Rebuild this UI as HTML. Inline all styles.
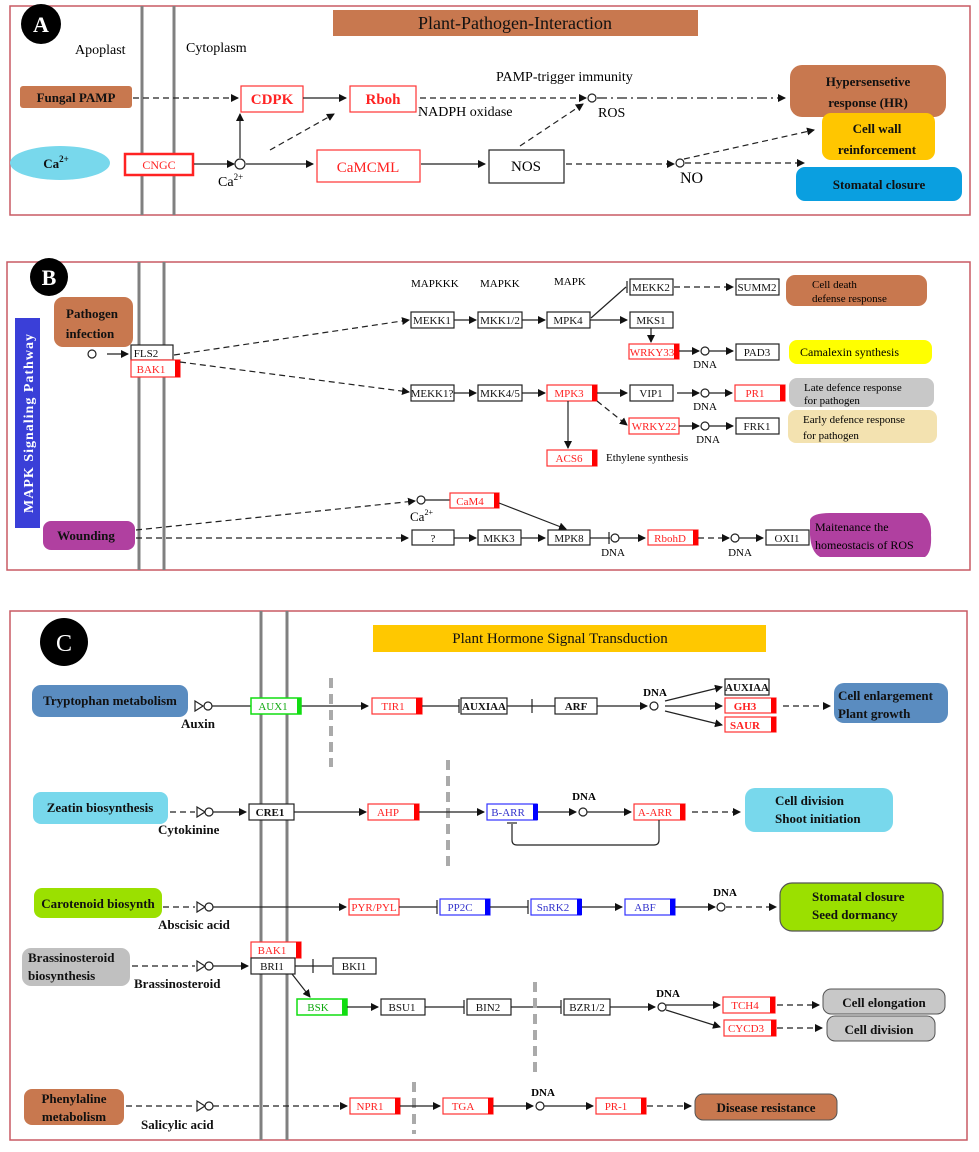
<!DOCTYPE html>
<html><head><meta charset="utf-8"><style>
html,body{margin:0;padding:0;background:#fff;}
svg{display:block;font-family:"Liberation Serif",serif;}
.n{fill:#fff;stroke:#222;stroke-width:1.2}
.r{fill:#fff;stroke:#f33;stroke-width:1.2}
.g{fill:#fff;stroke:#1d1;stroke-width:1.5}
.b{fill:#fff;stroke:#33f;stroke-width:1.2}
.t{font-size:11px;fill:#111;text-anchor:middle}
.tr{font-size:11px;fill:#f22;text-anchor:middle}
.tg{font-size:11px;fill:#1a1;text-anchor:middle}
.tb{font-size:11px;fill:#33c;text-anchor:middle}
.l{stroke:#222;stroke-width:1.2;fill:none}
.d{stroke:#222;stroke-width:1.2;fill:none;stroke-dasharray:6,4}
.bold{font-weight:bold;font-size:13px;fill:#111}
.vg{stroke:#808080;stroke-width:3}
.gd{stroke:#aaa;stroke-width:4;stroke-dasharray:10,6}
.c{fill:#fff;stroke:#222;stroke-width:1.2}
</style></head><body>
<svg width="979" height="1152" viewBox="0 0 979 1152" xmlns="http://www.w3.org/2000/svg">
<defs>
<marker id="a" markerWidth="8" markerHeight="8" refX="7" refY="4" orient="auto" markerUnits="userSpaceOnUse"><path d="M0,0 L8,4 L0,8 z" fill="#111"/></marker>
</defs>
<!-- PANEL A -->
<rect x="10" y="6" width="960" height="209" fill="none" stroke="#c85a64" stroke-width="1.5"/>
<line class="vg" x1="142" y1="6" x2="142" y2="215"/><line class="vg" x1="174" y1="6" x2="174" y2="215"/>
<circle cx="41" cy="24" r="20" fill="#000"/><text x="41" y="32" font-size="22" font-weight="bold" fill="#fff" text-anchor="middle">A</text>
<rect x="333" y="10" width="365" height="26" fill="#c8784f"/><text x="515" y="29" font-size="18" text-anchor="middle" fill="#111">Plant-Pathogen-Interaction</text>
<text x="75" y="54" font-size="14">Apoplast</text><text x="186" y="52" font-size="14">Cytoplasm</text>
<rect x="20" y="86" width="112" height="22" rx="3" fill="#c8784f"/><text x="76" y="102" class="bold" text-anchor="middle" font-size="14">Fungal PAMP</text>
<line class="d" x1="133" y1="98" x2="238" y2="98" marker-end="url(#a)"/>
<rect class="r" x="241" y="86" width="62" height="26"/><text x="272" y="104" font-size="15" font-weight="bold" fill="#f22" text-anchor="middle">CDPK</text>
<line class="l" x1="303" y1="98" x2="346" y2="98" marker-end="url(#a)"/>
<rect class="r" x="350" y="86" width="66" height="26"/><text x="383" y="104" font-size="15" font-weight="bold" fill="#f22" text-anchor="middle">Rboh</text>
<line class="d" x1="420" y1="98" x2="586" y2="98" marker-end="url(#a)"/>
<circle class="c" cx="592" cy="98" r="4"/>
<text x="418" y="116" font-size="14">NADPH oxidase</text><text x="496" y="81" font-size="14">PAMP-trigger immunity</text><text x="598" y="117" font-size="14">ROS</text>
<path class="l" d="M597,98 L785,98" stroke-dasharray="10,4,2,4" marker-end="url(#a)"/>
<rect x="790" y="65" width="156" height="52" rx="12" fill="#c8784f"/><text x="868" y="86" class="bold" font-size="15" text-anchor="middle">Hypersensetive</text><text x="868" y="107" class="bold" font-size="15" text-anchor="middle">response (HR)</text>
<ellipse cx="60" cy="163" rx="50" ry="17" fill="#78d8ec"/><text x="56" y="168" class="bold" font-size="14" text-anchor="middle">Ca<tspan font-size="9" dy="-6">2+</tspan></text>
<rect x="125" y="154" width="68" height="21" fill="#fff" stroke="#f22" stroke-width="2.5"/><text x="159" y="169" font-size="12" fill="#f22" text-anchor="middle">CNGC</text>
<line class="l" x1="194" y1="164" x2="234" y2="164" marker-end="url(#a)"/>
<circle class="c" cx="240" cy="164" r="5"/><text x="218" y="186" font-size="14">Ca<tspan font-size="9" dy="-6">2+</tspan></text>
<line class="l" x1="240" y1="158" x2="240" y2="114" marker-end="url(#a)"/>
<line class="d" x1="270" y1="150" x2="334" y2="114" marker-end="url(#a)"/>
<line class="l" x1="246" y1="164" x2="313" y2="164" marker-end="url(#a)"/>
<rect class="r" x="317" y="150" width="103" height="32"/><text x="368" y="172" font-size="15" fill="#f22" text-anchor="middle">CaMCML</text>
<line class="l" x1="421" y1="164" x2="485" y2="164" marker-end="url(#a)"/>
<rect class="n" x="489" y="150" width="75" height="33"/><text x="526" y="171" font-size="15" text-anchor="middle">NOS</text>
<line class="d" x1="520" y1="146" x2="583" y2="104" marker-end="url(#a)"/>
<line class="d" x1="566" y1="164" x2="674" y2="164" marker-end="url(#a)"/>
<circle class="c" cx="680" cy="163" r="4"/><text x="680" y="183" font-size="16">NO</text>
<line class="d" x1="684" y1="159" x2="814" y2="130" marker-end="url(#a)"/>
<line class="d" x1="685" y1="163" x2="804" y2="163" marker-end="url(#a)"/>
<rect x="822" y="113" width="113" height="47" rx="9" fill="#ffc600"/><text x="877" y="133" class="bold" font-size="15" text-anchor="middle">Cell wall</text><text x="877" y="154" class="bold" font-size="15" text-anchor="middle">reinforcement</text>
<rect x="796" y="167" width="166" height="34" rx="9" fill="#0a9fe0"/><text x="879" y="189" class="bold" font-size="15" text-anchor="middle">Stomatal closure</text>

<!-- PANEL B -->
<rect x="7" y="262" width="963" height="308" fill="none" stroke="#c85a64" stroke-width="1.5"/>
<line class="vg" x1="139" y1="262" x2="139" y2="570"/><line class="vg" x1="164" y1="262" x2="164" y2="570"/>
<circle cx="49" cy="277" r="19" fill="#000"/><text x="49" y="285" font-size="22" font-weight="bold" fill="#fff" text-anchor="middle">B</text>
<rect x="15" y="318" width="25" height="210" fill="#3a3fd8"/><text transform="translate(33,423) rotate(-90)" font-size="14" font-weight="bold" fill="#fff" text-anchor="middle" letter-spacing="1">MAPK Signaling Pathway</text>
<rect x="54" y="297" width="79" height="50" rx="9" fill="#c8784f"/><text x="92" y="318" class="bold" text-anchor="middle">Pathogen</text><text x="90" y="338" class="bold" text-anchor="middle">infection</text>
<circle class="c" cx="92" cy="354" r="4"/><line class="l" x1="107" y1="354" x2="128" y2="354" marker-end="url(#a)"/>
<rect class="n" x="131" y="345" width="42" height="15"/><text x="146" y="357" class="t">FLS2</text>
<rect class="r" x="131" y="360" width="49" height="17"/><rect x="175" y="360" width="5" height="17" fill="#f00"/><text x="151" y="373" class="tr">BAK1</text>
<line class="d" x1="174" y1="355" x2="409" y2="320" marker-end="url(#a)"/>
<line class="d" x1="180" y1="362" x2="409" y2="392" marker-end="url(#a)"/>
<text x="411" y="287" font-size="11">MAPKKK</text><text x="480" y="287" font-size="11">MAPKK</text><text x="554" y="285" font-size="11">MAPK</text>
<rect class="n" x="411" y="312" width="43" height="16"/><text x="432" y="324" class="t">MEKK1</text>
<line class="l" x1="454" y1="320" x2="476" y2="320" marker-end="url(#a)"/>
<rect class="n" x="478" y="312" width="44" height="16"/><text x="500" y="324" class="t">MKK1/2</text>
<line class="l" x1="522" y1="320" x2="545" y2="320" marker-end="url(#a)"/>
<rect class="n" x="547" y="312" width="43" height="16"/><text x="568" y="324" class="t">MPK4</text>
<line class="l" x1="590" y1="320" x2="627" y2="320" marker-end="url(#a)"/>
<polyline class="l" points="591,318 626,287" stroke-width="0.8"/><line class="l" x1="627" y1="281" x2="627" y2="293"/>
<rect class="n" x="630" y="279" width="43" height="16"/><text x="651" y="291" class="t">MEKK2</text>
<line class="d" x1="674" y1="287" x2="733" y2="287" marker-end="url(#a)"/>
<rect class="n" x="736" y="279" width="43" height="16"/><text x="757" y="291" class="t">SUMM2</text>
<rect x="786" y="275" width="141" height="31" rx="9" fill="#c8784f"/><text x="812" y="288" font-size="11">Cell death</text><text x="812" y="302" font-size="11">defense response</text>
<rect class="n" x="630" y="312" width="43" height="16"/><text x="651" y="324" class="t">MKS1</text>
<line class="l" x1="651" y1="328" x2="651" y2="342" marker-end="url(#a)"/>
<rect class="r" x="629" y="344" width="50" height="15"/><rect x="674" y="344" width="5" height="15" fill="#f00"/><text x="652" y="356" class="tr">WRKY33</text>
<line class="l" x1="679" y1="351" x2="699" y2="351" marker-end="url(#a)"/><circle class="c" cx="705" cy="351" r="4"/><line class="l" x1="709" y1="351" x2="733" y2="351" marker-end="url(#a)"/>
<text x="705" y="368" font-size="11" text-anchor="middle">DNA</text>
<rect class="n" x="736" y="344" width="43" height="16"/><text x="757" y="356" class="t">PAD3</text>
<rect x="789" y="340" width="143" height="24" rx="8" fill="#ffff00"/><text x="800" y="356" font-size="12">Camalexin synthesis</text>
<rect class="n" x="411" y="385" width="43" height="16"/><text x="432" y="397" class="t">MEKK1?</text>
<line class="l" x1="454" y1="393" x2="476" y2="393" marker-end="url(#a)"/>
<rect class="n" x="478" y="385" width="44" height="16"/><text x="500" y="397" class="t">MKK4/5</text>
<line class="l" x1="522" y1="393" x2="545" y2="393" marker-end="url(#a)"/>
<rect class="r" x="547" y="385" width="50" height="16"/><rect x="592" y="385" width="5" height="16" fill="#f00"/><text x="569" y="397" class="tr">MPK3</text>
<line class="l" x1="597" y1="393" x2="627" y2="393" marker-end="url(#a)"/>
<rect class="n" x="630" y="385" width="43" height="16"/><text x="651" y="397" class="t">VIP1</text>
<line class="l" x1="677" y1="393" x2="699" y2="393" marker-end="url(#a)"/><circle class="c" cx="705" cy="393" r="4"/><line class="l" x1="709" y1="393" x2="732" y2="393" marker-end="url(#a)"/>
<text x="705" y="410" font-size="11" text-anchor="middle">DNA</text>
<rect class="r" x="735" y="385" width="50" height="16"/><rect x="780" y="385" width="5" height="16" fill="#f00"/><text x="755" y="397" class="tr">PR1</text>
<rect x="789" y="378" width="145" height="29" rx="8" fill="#c8c8c8"/><text x="804" y="391" font-size="11">Late defence response</text><text x="804" y="404" font-size="11">for pathogen</text>
<line class="d" x1="597" y1="401" x2="627" y2="425" marker-end="url(#a)" stroke-dasharray="3,3"/>
<rect class="r" x="629" y="418" width="50" height="16"/><text x="654" y="430" class="tr">WRKY22</text>
<line class="l" x1="679" y1="426" x2="699" y2="426" marker-end="url(#a)"/><circle class="c" cx="705" cy="426" r="4"/><line class="l" x1="709" y1="426" x2="733" y2="426" marker-end="url(#a)"/>
<text x="708" y="443" font-size="11" text-anchor="middle">DNA</text>
<rect class="n" x="736" y="418" width="43" height="16"/><text x="757" y="430" class="t">FRK1</text>
<rect x="788" y="410" width="149" height="33" rx="8" fill="#f3e2b0"/><text x="803" y="423" font-size="11">Early defence response</text><text x="803" y="439" font-size="11">for pathogen</text>
<line class="l" x1="568" y1="401" x2="568" y2="448" marker-end="url(#a)"/>
<rect class="r" x="547" y="450" width="50" height="16"/><rect x="592" y="450" width="5" height="16" fill="#f00"/><text x="569" y="462" class="tr">ACS6</text>
<text x="606" y="461" font-size="11">Ethylene synthesis</text>
<rect x="43" y="521" width="92" height="29" rx="8" fill="#b040a0"/><text x="86" y="540" class="bold" text-anchor="middle">Wounding</text>
<line class="d" x1="136" y1="530" x2="415" y2="501" marker-end="url(#a)"/>
<circle class="c" cx="421" cy="500" r="4"/><line class="l" x1="425" y1="500" x2="450" y2="500"/>
<text x="410" y="521" font-size="13">Ca<tspan font-size="8" dy="-6">2+</tspan></text>
<rect class="r" x="450" y="493" width="49" height="15"/><rect x="494" y="493" width="5" height="15" fill="#f00"/><text x="470" y="505" class="tr">CaM4</text>
<line class="l" x1="499" y1="503" x2="566" y2="529" marker-end="url(#a)"/>
<line class="d" x1="136" y1="538" x2="408" y2="538" marker-end="url(#a)"/>
<rect class="n" x="412" y="530" width="42" height="15"/><text x="433" y="542" class="t">?</text>
<line class="l" x1="454" y1="538" x2="476" y2="538" marker-end="url(#a)"/>
<rect class="n" x="478" y="530" width="43" height="15"/><text x="499" y="542" class="t">MKK3</text>
<line class="l" x1="521" y1="538" x2="545" y2="538" marker-end="url(#a)"/>
<rect class="n" x="548" y="530" width="42" height="15"/><text x="569" y="542" class="t">MPK8</text>
<line class="l" x1="590" y1="538" x2="610" y2="538"/><line class="l" x1="609" y1="532" x2="609" y2="544"/><circle class="c" cx="615" cy="538" r="4"/>
<text x="613" y="556" font-size="11" text-anchor="middle">DNA</text>
<line class="l" x1="619" y1="538" x2="645" y2="538" marker-end="url(#a)"/>
<rect class="r" x="648" y="530" width="50" height="15"/><rect x="693" y="530" width="5" height="15" fill="#f00"/><text x="670" y="542" class="tr">RbohD</text>
<line class="d" x1="698" y1="538" x2="729" y2="538" marker-end="url(#a)" stroke-dasharray="4,3"/><circle class="c" cx="735" cy="538" r="4"/>
<line class="l" x1="739" y1="538" x2="763" y2="538" marker-end="url(#a)"/>
<text x="740" y="556" font-size="11" text-anchor="middle">DNA</text>
<rect class="n" x="766" y="530" width="43" height="15"/><text x="787" y="542" class="t">OXI1</text>
<path d="M810,520 Q812,513 830,513 L922,513 Q932,520 931,535 Q932,552 925,557 L820,557 Q811,552 810,535 z" fill="#b040a0"/>
<text x="815" y="531" font-size="12">Maitenance the</text><text x="815" y="549" font-size="12">homeostacis of ROS</text>

<!-- PANEL C -->
<rect x="10" y="611" width="957" height="529" fill="none" stroke="#c85a64" stroke-width="1.5"/>
<line class="vg" x1="261" y1="611" x2="261" y2="1140"/><line class="vg" x1="287" y1="611" x2="287" y2="1140"/>
<circle cx="64" cy="642" r="24" fill="#000"/><text x="64" y="651" font-size="24" fill="#fff" text-anchor="middle">C</text>
<rect x="373" y="625" width="393" height="27" fill="#ffc800"/><text x="560" y="643" font-size="15" text-anchor="middle" fill="#111">Plant Hormone Signal Transduction</text>
<!-- auxin -->
<rect x="32" y="685" width="156" height="32" rx="9" fill="#5a8cc0"/><text x="110" y="705" class="bold" font-size="13" text-anchor="middle">Tryptophan metabolism</text>
<path class="l" d="M195,701 L203,706 L195,711 z"/><circle class="c" cx="208" cy="706" r="4"/>
<line class="l" x1="212" y1="706" x2="368" y2="706" marker-end="url(#a)"/>
<text x="181" y="728" class="bold" font-size="15">Auxin</text>
<rect class="g" x="251" y="698" width="50" height="16"/><rect x="297" y="698" width="4" height="16" fill="#1d1"/><text x="273" y="710" class="tg">AUX1</text>
<line class="gd" x1="331" y1="678" x2="331" y2="767"/>
<rect class="r" x="372" y="698" width="50" height="16"/><rect x="416" y="698" width="6" height="16" fill="#f00"/><text x="393" y="710" class="tr">TIR1</text>
<line class="l" x1="422" y1="706" x2="459" y2="706"/><line class="l" x1="459" y1="699" x2="459" y2="713"/>
<rect class="n" x="461" y="698" width="46" height="16"/><text x="484" y="710" class="t" font-weight="bold">AUXIAA</text>
<line class="l" x1="507" y1="706" x2="555" y2="706"/><line class="l" x1="532" y1="699" x2="532" y2="713"/>
<rect class="n" x="555" y="698" width="42" height="16"/><text x="576" y="710" class="t" font-weight="bold">ARF</text>
<line class="l" x1="597" y1="706" x2="647" y2="706" marker-end="url(#a)"/><circle class="c" cx="654" cy="706" r="4"/>
<text x="655" y="696" font-size="11" font-weight="bold" text-anchor="middle">DNA</text>
<line class="l" x1="665" y1="701" x2="722" y2="687" marker-end="url(#a)"/>
<line class="l" x1="665" y1="706" x2="722" y2="706" marker-end="url(#a)"/>
<line class="l" x1="665" y1="711" x2="722" y2="725" marker-end="url(#a)"/>
<rect class="n" x="725" y="679" width="44" height="16"/><text x="747" y="691" class="t" font-weight="bold">AUXIAA</text>
<rect class="r" x="725" y="698" width="51" height="15"/><rect x="771" y="698" width="5" height="15" fill="#f00"/><text x="745" y="710" class="tr" font-weight="bold">GH3</text>
<rect class="r" x="725" y="717" width="51" height="15"/><rect x="771" y="717" width="5" height="15" fill="#f00"/><text x="745" y="729" class="tr" font-weight="bold">SAUR</text>
<line class="d" x1="783" y1="706" x2="830" y2="706" marker-end="url(#a)"/>
<rect x="834" y="683" width="114" height="40" rx="10" fill="#5a8cc0"/><text x="838" y="700" class="bold" font-size="13">Cell enlargement</text><text x="838" y="718" class="bold" font-size="13">Plant growth</text>
<!-- cytokinin -->
<rect x="33" y="792" width="135" height="32" rx="8" fill="#78d8ec"/><text x="100" y="812" class="bold" font-size="13" text-anchor="middle">Zeatin biosynthesis</text>
<line class="d" x1="170" y1="812" x2="195" y2="812"/><path class="l" d="M197,807 L205,812 L197,817 z"/><circle class="c" cx="209" cy="812" r="4"/>
<line class="l" x1="213" y1="812" x2="246" y2="812" marker-end="url(#a)"/>
<text x="158" y="834" class="bold" font-size="15">Cytokinine</text>
<rect class="n" x="249" y="804" width="45" height="16"/><text x="270" y="816" class="t" font-weight="bold">CRE1</text>
<line class="l" x1="294" y1="812" x2="366" y2="812" marker-end="url(#a)"/>
<rect class="r" x="368" y="804" width="51" height="16"/><rect x="414" y="804" width="5" height="16" fill="#f00"/><text x="388" y="816" class="tr">AHP</text>
<line class="gd" x1="448" y1="760" x2="448" y2="868"/>
<line class="l" x1="419" y1="812" x2="484" y2="812" marker-end="url(#a)"/>
<rect class="b" x="487" y="804" width="50" height="16"/><rect x="533" y="804" width="5" height="16" fill="#00f"/><text x="508" y="816" class="tb">B-ARR</text>
<line class="l" x1="538" y1="812" x2="576" y2="812" marker-end="url(#a)"/><circle class="c" cx="583" cy="812" r="4"/>
<text x="584" y="800" font-size="11" font-weight="bold" text-anchor="middle">DNA</text>
<line class="l" x1="587" y1="812" x2="631" y2="812" marker-end="url(#a)"/>
<rect class="r" x="634" y="804" width="51" height="16"/><rect x="680" y="804" width="5" height="16" fill="#f00"/><text x="655" y="816" class="tr">A-ARR</text>
<path class="l" d="M659,820 L659,840 Q659,845 654,845 L517,845 Q512,845 512,840 L512,824" stroke="#555"/><line class="l" x1="507" y1="823" x2="517" y2="823"/>
<line class="d" x1="692" y1="812" x2="740" y2="812" marker-end="url(#a)"/>
<rect x="745" y="788" width="148" height="44" rx="10" fill="#78d8ec"/><text x="775" y="805" class="bold" font-size="13">Cell division</text><text x="775" y="823" class="bold" font-size="13">Shoot initiation</text>
<!-- ABA -->
<rect x="34" y="888" width="128" height="30" rx="8" fill="#9be000"/><text x="98" y="908" class="bold" font-size="13" text-anchor="middle">Carotenoid biosynth</text>
<line class="d" x1="163" y1="907" x2="195" y2="907"/><path class="l" d="M197,902 L205,907 L197,912 z"/><circle class="c" cx="209" cy="907" r="4"/>
<line class="l" x1="213" y1="907" x2="346" y2="907" marker-end="url(#a)"/>
<text x="158" y="929" class="bold" font-size="15">Abscisic acid</text>
<rect class="r" x="349" y="899" width="50" height="16"/><text x="374" y="911" class="tr">PYR/PYL</text>
<line class="l" x1="399" y1="907" x2="437" y2="907"/><line class="l" x1="437" y1="900" x2="437" y2="914"/>
<rect class="b" x="440" y="899" width="50" height="16"/><rect x="485" y="899" width="5" height="16" fill="#00f"/><text x="460" y="911" class="tb">PP2C</text>
<line class="l" x1="490" y1="907" x2="528" y2="907"/><line class="l" x1="528" y1="900" x2="528" y2="914"/>
<rect class="b" x="531" y="899" width="50" height="16"/><rect x="577" y="899" width="5" height="16" fill="#00f"/><text x="553" y="911" class="tb">SnRK2</text>
<line class="l" x1="582" y1="907" x2="622" y2="907" marker-end="url(#a)"/>
<rect class="b" x="625" y="899" width="50" height="16"/><rect x="670" y="899" width="5" height="16" fill="#00f"/><text x="645" y="911" class="tb">ABF</text>
<line class="l" x1="675" y1="907" x2="715" y2="907" marker-end="url(#a)"/><circle class="c" cx="721" cy="907" r="4"/>
<text x="725" y="896" font-size="11" font-weight="bold" text-anchor="middle">DNA</text>
<line class="d" x1="726" y1="907" x2="776" y2="907" marker-end="url(#a)"/>
<rect x="780" y="883" width="163" height="48" rx="12" fill="#9be000" stroke="#555" stroke-width="1.2"/><text x="812" y="901" class="bold" font-size="13">Stomatal closure</text><text x="812" y="919" class="bold" font-size="13">Seed dormancy</text>
<!-- BR -->
<rect x="22" y="948" width="108" height="38" rx="9" fill="#c0c0c0"/><text x="28" y="962" class="bold" font-size="13">Brassinosteroid</text><text x="28" y="980" class="bold" font-size="13">biosynthesis</text>
<line class="d" x1="132" y1="966" x2="195" y2="966"/><path class="l" d="M197,961 L205,966 L197,971 z"/><circle class="c" cx="209" cy="966" r="4"/>
<line class="l" x1="213" y1="966" x2="248" y2="966" marker-end="url(#a)"/>
<text x="134" y="988" class="bold" font-size="15">Brassinosteroid</text>
<rect class="r" x="251" y="942" width="50" height="16"/><rect x="296" y="942" width="5" height="16" fill="#f00"/><text x="272" y="954" class="tr">BAK1</text>
<rect class="n" x="251" y="958" width="44" height="16"/><text x="272" y="970" class="t">BRI1</text>
<line class="l" x1="295" y1="966" x2="332" y2="966"/><line class="l" x1="313" y1="959" x2="313" y2="973"/>
<rect class="n" x="333" y="958" width="43" height="16"/><text x="354" y="970" class="t">BKI1</text>
<line class="l" x1="292" y1="974" x2="310" y2="997" marker-end="url(#a)"/>
<rect class="g" x="297" y="999" width="50" height="16"/><rect x="342" y="999" width="5" height="16" fill="#1d1"/><text x="318" y="1011" class="tg">BSK</text>
<line class="l" x1="347" y1="1007" x2="378" y2="1007" marker-end="url(#a)"/>
<rect class="n" x="381" y="999" width="44" height="16"/><text x="402" y="1011" class="t">BSU1</text>
<line class="l" x1="425" y1="1007" x2="464" y2="1007"/><line class="l" x1="464" y1="1000" x2="464" y2="1014"/>
<rect class="n" x="467" y="999" width="44" height="16"/><text x="488" y="1011" class="t">BIN2</text>
<line class="l" x1="511" y1="1007" x2="561" y2="1007"/><line class="l" x1="561" y1="1000" x2="561" y2="1014"/>
<line class="gd" x1="535" y1="982" x2="535" y2="1073"/>
<rect class="n" x="564" y="999" width="46" height="16"/><text x="587" y="1011" class="t">BZR1/2</text>
<line class="l" x1="610" y1="1007" x2="655" y2="1007" marker-end="url(#a)"/><circle class="c" cx="662" cy="1007" r="4"/>
<text x="668" y="997" font-size="11" font-weight="bold" text-anchor="middle">DNA</text>
<line class="l" x1="666" y1="1005" x2="720" y2="1005" marker-end="url(#a)"/>
<line class="l" x1="666" y1="1010" x2="720" y2="1027" marker-end="url(#a)"/>
<rect class="r" x="723" y="997" width="52" height="16"/><rect x="770" y="997" width="5" height="16" fill="#f00"/><text x="745" y="1009" class="tr">TCH4</text>
<rect class="r" x="724" y="1020" width="52" height="16"/><rect x="771" y="1020" width="5" height="16" fill="#f00"/><text x="746" y="1032" class="tr">CYCD3</text>
<line class="d" x1="777" y1="1005" x2="819" y2="1005" marker-end="url(#a)"/>
<line class="d" x1="777" y1="1028" x2="822" y2="1028" marker-end="url(#a)"/>
<rect x="823" y="989" width="122" height="25" rx="8" fill="#c8c8c8" stroke="#555"/><text x="884" y="1007" class="bold" font-size="13" text-anchor="middle">Cell elongation</text>
<rect x="827" y="1016" width="108" height="25" rx="8" fill="#c8c8c8" stroke="#555"/><text x="879" y="1034" class="bold" font-size="13" text-anchor="middle">Cell division</text>
<!-- SA -->
<rect x="24" y="1089" width="100" height="36" rx="8" fill="#c8784f"/><text x="74" y="1103" class="bold" font-size="13" text-anchor="middle">Phenylaline</text><text x="74" y="1121" class="bold" font-size="13" text-anchor="middle">metabolism</text>
<line class="d" x1="126" y1="1106" x2="195" y2="1106"/><path class="l" d="M197,1101 L205,1106 L197,1111 z"/><circle class="c" cx="209" cy="1106" r="4"/>
<line class="d" x1="213" y1="1106" x2="347" y2="1106" marker-end="url(#a)"/>
<text x="141" y="1129" class="bold" font-size="15">Salicylic acid</text>
<rect class="r" x="350" y="1098" width="50" height="16"/><rect x="395" y="1098" width="5" height="16" fill="#f00"/><text x="370" y="1110" class="tr">NPR1</text>
<line class="gd" x1="414" y1="1082" x2="414" y2="1134"/>
<line class="l" x1="400" y1="1106" x2="440" y2="1106" marker-end="url(#a)"/>
<rect class="r" x="443" y="1098" width="50" height="16"/><rect x="488" y="1098" width="5" height="16" fill="#f00"/><text x="463" y="1110" class="tr">TGA</text>
<line class="l" x1="493" y1="1106" x2="533" y2="1106" marker-end="url(#a)"/><circle class="c" cx="540" cy="1106" r="4"/>
<text x="543" y="1096" font-size="11" font-weight="bold" text-anchor="middle">DNA</text>
<line class="l" x1="544" y1="1106" x2="593" y2="1106" marker-end="url(#a)"/>
<rect class="r" x="596" y="1098" width="50" height="16"/><rect x="641" y="1098" width="5" height="16" fill="#f00"/><text x="616" y="1110" class="tr">PR-1</text>
<line class="d" x1="647" y1="1106" x2="691" y2="1106" marker-end="url(#a)"/>
<rect x="695" y="1094" width="142" height="26" rx="8" fill="#c8784f" stroke="#555"/><text x="766" y="1112" class="bold" font-size="14" text-anchor="middle">Disease resistance</text>
</svg>
</body></html>
